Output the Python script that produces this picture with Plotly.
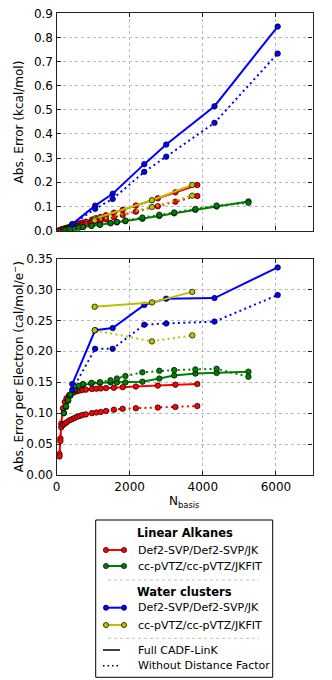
import plotly.graph_objects as go

# ---------------- data ----------------
# Linear alkanes, Def2-SVP/Def2-SVP/JK
alk_svp_nbasis = [82, 106, 130, 178, 226, 274, 346, 418, 490, 562, 634, 706, 802, 970, 1090, 1210, 1354, 1570, 1810, 2170, 2770, 3250, 3850]
alk_svp_err_full = [0.0009, 0.0020, 0.0035, 0.0063, 0.0087, 0.0112, 0.0147, 0.0182, 0.0217, 0.0252, 0.0287, 0.0322, 0.0367, 0.0448, 0.0505, 0.0563, 0.0632, 0.0736, 0.0855, 0.1032, 0.1332, 0.1580, 0.1885]
alk_svp_err_nodf = [0.0008, 0.0019, 0.0032, 0.0047, 0.0061, 0.0077, 0.0100, 0.0124, 0.0149, 0.0175, 0.0201, 0.0227, 0.0261, 0.0322, 0.0366, 0.0410, 0.0465, 0.0551, 0.0644, 0.0780, 0.1005, 0.1190, 0.1429]
alk_svp_pe_full = [0.034, 0.059, 0.083, 0.108, 0.118, 0.124, 0.129, 0.132, 0.134, 0.1355, 0.1365, 0.1375, 0.138, 0.139, 0.1395, 0.140, 0.1405, 0.141, 0.142, 0.143, 0.1445, 0.146, 0.147]
alk_svp_pe_nodf = [0.030, 0.055, 0.077, 0.081, 0.083, 0.085, 0.088, 0.090, 0.092, 0.094, 0.0955, 0.097, 0.098, 0.100, 0.101, 0.102, 0.1034, 0.1055, 0.107, 0.108, 0.109, 0.110, 0.1115]

# Linear alkanes, cc-pVTZ/cc-pVTZ/JKFIT
alk_tz_nbasis = [202, 260, 318, 376, 492, 608, 724, 956, 1188, 1478, 1652, 1884, 2348, 2812, 3218, 3798, 4378, 5248]
alk_tz_err_full = [0.0026, 0.0037, 0.0050, 0.0064, 0.0090, 0.0117, 0.0143, 0.0192, 0.0241, 0.0302, 0.0338, 0.0386, 0.0486, 0.0602, 0.0712, 0.0856, 0.0993, 0.1206]
alk_tz_err_nodf = [0.0026, 0.0038, 0.0051, 0.0065, 0.0091, 0.0118, 0.0144, 0.0194, 0.0243, 0.0309, 0.0353, 0.0413, 0.0535, 0.0650, 0.0750, 0.0891, 0.1034, 0.1147]
alk_tz_pe_full = [0.100, 0.110, 0.120, 0.128, 0.137, 0.143, 0.146, 0.148, 0.149, 0.1497, 0.1497, 0.1497, 0.1508, 0.156, 0.161, 0.164, 0.165, 0.167]
alk_tz_pe_nodf = [0.100, 0.111, 0.121, 0.130, 0.138, 0.144, 0.147, 0.149, 0.150, 0.153, 0.156, 0.160, 0.166, 0.1685, 0.1696, 0.1707, 0.1717, 0.1588]

# Water clusters, Def2-SVP/Def2-SVP/JK
wat_svp_nbasis = [432, 1056, 1536, 2400, 3000, 4320, 6048]
wat_svp_err_full = [0.0265, 0.103, 0.152, 0.275, 0.356, 0.515, 0.845]
wat_svp_err_nodf = [0.0248, 0.0898, 0.1306, 0.243, 0.306, 0.446, 0.733]
wat_svp_pe_full = [0.147, 0.234, 0.2375, 0.275, 0.285, 0.286, 0.3355]
wat_svp_pe_nodf = [0.138, 0.204, 0.204, 0.243, 0.245, 0.248, 0.291]

# Water clusters, cc-pVTZ/cc-pVTZ/JKFIT
wat_tz_nbasis = [1044, 2610, 3712]
wat_tz_err_full = [0.049, 0.1256, 0.189]
wat_tz_err_nodf = [0.0421, 0.0972, 0.1444]
wat_tz_pe_full = [0.272, 0.279, 0.296]
wat_tz_pe_nodf = [0.234, 0.216, 0.2257]

x_ticks = [0, 2000, 4000, 6000]
top_y_ticks = [0.0, 0.1, 0.2, 0.3, 0.4, 0.5, 0.6, 0.7, 0.8, 0.9]
bot_y_ticks = [0.00, 0.05, 0.10, 0.15, 0.20, 0.25, 0.30, 0.35]

legend_groups = ["Linear Alkanes", "Water clusters"]
legend_labels = ["Def2-SVP/Def2-SVP/JK", "cc-pVTZ/cc-pVTZ/JKFIT"]
style_labels = ["Full CADF-LinK", "Without Distance Factor"]

# ---------------- styling ----------------
W, H = 332, 680
FONT = "DejaVu Sans"
RED, GREEN, BLUE, YEL = "#ff0000", "#008000", "#0000ff", "#bfbf00"
DOT = "2px,3.3px"

fig = go.Figure()

series = [
    (alk_svp_nbasis, alk_svp_err_full, alk_svp_err_nodf, alk_svp_pe_full, alk_svp_pe_nodf, RED),
    (alk_tz_nbasis, alk_tz_err_full, alk_tz_err_nodf, alk_tz_pe_full, alk_tz_pe_nodf, GREEN),
    (wat_svp_nbasis, wat_svp_err_full, wat_svp_err_nodf, wat_svp_pe_full, wat_svp_pe_nodf, BLUE),
    (wat_tz_nbasis, wat_tz_err_full, wat_tz_err_nodf, wat_tz_pe_full, wat_tz_pe_nodf, YEL),
]

def add(x, y, color, dash, xa, ya):
    fig.add_trace(go.Scatter(
        x=x, y=y, mode="lines+markers", xaxis=xa, yaxis=ya, showlegend=False,
        line=dict(color=color, width=2, dash=dash),
        marker=dict(symbol="circle", size=5.5, color=color, line=dict(color="black", width=0.7)),
        hoverinfo="skip"))

for xs, ef, en, pf, pn, c in series:
    add(xs, ef, c, "solid", "x", "y")
    add(xs, en, c, DOT, "x", "y")
    add(xs, pf, c, "solid", "x2", "y2")
    add(xs, pn, c, DOT, "x2", "y2")

def px(xp):
    return xp / W

def py(yp):
    return 1 - yp / H

XL, XR = 56.5, 312.5
T1, B1 = 13.3, 230.5
T2, B2 = 258.5, 475.0

axis_common = dict(
    showline=True, linecolor="#222222", linewidth=1.2, mirror="ticks",
    ticks="inside", ticklen=4, tickwidth=1, tickcolor="#222222",
    showgrid=True, gridcolor="#b8b8b8", gridwidth=1, griddash="dot",
    zeroline=False, automargin=False,
    tickfont=dict(family=FONT, size=12, color="black"),
)

fig.update_layout(
    width=W, height=H,
    margin=dict(l=0, r=0, t=0, b=0),
    paper_bgcolor="white", plot_bgcolor="white",
    font=dict(family=FONT, size=12, color="black"),
    xaxis=dict(domain=[px(XL), px(XR)], range=[0, 7000], tickvals=x_ticks,
               showticklabels=False, anchor="y", **axis_common),
    yaxis=dict(domain=[py(B1), py(T1)], range=[0, 0.9], tickvals=top_y_ticks,
               tickformat=".1f", anchor="x", **axis_common),
    xaxis2=dict(domain=[px(XL), px(XR)], range=[0, 7000], tickvals=x_ticks,
                ticktext=[str(v) for v in x_ticks], anchor="y2", **axis_common),
    yaxis2=dict(domain=[py(B2), py(T2)], range=[0, 0.35], tickvals=bot_y_ticks,
                tickformat=".2f", anchor="x2", **axis_common),
)

annotations = []
shapes = []

# axis titles
annotations.append(dict(text="Abs. Error (kcal/mol)", x=px(18.5), y=py((T1 + B1) / 2),
                        xref="paper", yref="paper", textangle=-90, showarrow=False,
                        font=dict(family=FONT, size=12), xanchor="center", yanchor="middle"))
annotations.append(dict(text="Abs. Error per Electron (cal/mol/e<sup>\u2212</sup>)", x=px(17.5),
                        y=py((T2 + B2) / 2), xref="paper", yref="paper", textangle=-90,
                        showarrow=False, font=dict(family=FONT, size=12),
                        xanchor="center", yanchor="middle"))
annotations.append(dict(text="N<sub>basis</sub>", x=px((XL + XR) / 2), y=py(492.0),
                        xref="paper", yref="paper", showarrow=False,
                        font=dict(family=FONT, size=12), xanchor="center", yanchor="top"))

# legend box
LX0, LX1, LY0, LY1 = 95.7, 272.7, 520.0, 677.3
shapes.append(dict(type="rect", xref="paper", yref="paper", x0=px(LX0), x1=px(LX1),
                   y0=py(LY1), y1=py(LY0), line=dict(color="black", width=1),
                   fillcolor="white", layer="above"))

def header(text, yy):
    annotations.append(dict(text="<b>%s</b>" % text, x=px(184.5), y=py(yy), xref="paper",
                            yref="paper", showarrow=False, xanchor="center", yanchor="middle",
                            font=dict(family=FONT, size=11.5)))

def label(text, yy):
    annotations.append(dict(text=text, x=px(136.0), y=py(yy), xref="paper", yref="paper",
                            showarrow=False, xanchor="left", yanchor="middle",
                            font=dict(family=FONT, size=11)))

def swatch(color, yy):
    shapes.append(dict(type="line", xref="paper", yref="paper", x0=px(106), x1=px(124),
                       y0=py(yy), y1=py(yy), line=dict(color=color, width=2), layer="above"))
    r = 2.6
    for cx in (106, 124):
        shapes.append(dict(type="circle", xref="paper", yref="paper", x0=px(cx - r), x1=px(cx + r),
                           y0=py(yy + r), y1=py(yy - r), fillcolor=color,
                           line=dict(color="black", width=0.7), layer="above"))

def separator(yy):
    shapes.append(dict(type="line", xref="paper", yref="paper", x0=px(108), x1=px(259),
                       y0=py(yy), y1=py(yy), line=dict(color="#c0c0c0", width=1, dash="dot"),
                       layer="above"))

header(legend_groups[0], 532.5)
swatch(RED, 550.0); label(legend_labels[0], 550.0)
swatch(GREEN, 566.0); label(legend_labels[1], 566.0)
separator(580.0)
header(legend_groups[1], 591.5)
swatch(BLUE, 607.7); label(legend_labels[0], 607.7)
swatch(YEL, 625.0); label(legend_labels[1], 625.0)
separator(638.3)
shapes.append(dict(type="line", xref="paper", yref="paper", x0=px(103), x1=px(120),
                   y0=py(650), y1=py(650), line=dict(color="black", width=1.5), layer="above"))
label(style_labels[0], 650.0)
shapes.append(dict(type="line", xref="paper", yref="paper", x0=px(103), x1=px(118),
                   y0=py(665.7), y1=py(665.7), line=dict(color="black", width=1.5, dash="1.5px,3px"),
                   layer="above"))
label(style_labels[1], 665.7)

fig.update_layout(annotations=annotations, shapes=shapes)

fig.write_html("out.html", config={"displayModeBar": False},
               post_script="document.body.style.margin='0';document.body.style.overflow='hidden';")
